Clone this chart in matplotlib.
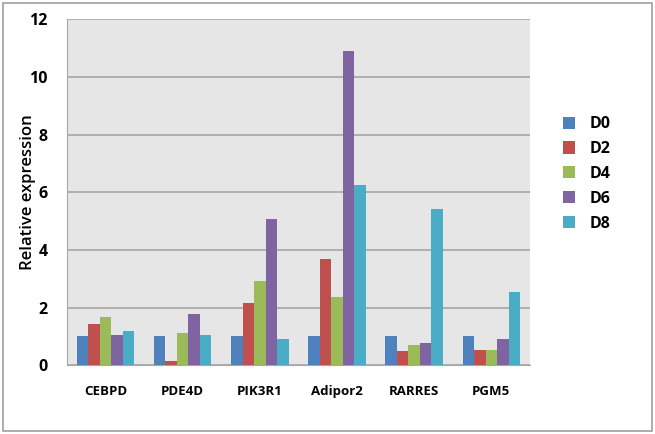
import numpy as np
import matplotlib
matplotlib.use('Agg')
from matplotlib import pyplot as plt
from matplotlib.patches import Rectangle

genes = ['CEBPD', 'PDE4D', 'PIK3R1', 'Adipor2', 'RARRES', 'PGM5']
days = ['D0', 'D2', 'D4', 'D6', 'D8']
d0 = [1.0, 1.0, 1.0, 1.0, 1.0, 1.0]
d2 = [1.42, 0.14, 2.16, 3.70, 0.50, 0.54]
d4 = [1.68, 1.11, 2.93, 2.37, 0.69, 0.52]
d6 = [1.04, 1.79, 5.08, 10.90, 0.78, 0.92]
d8 = [1.20, 1.04, 0.92, 6.25, 5.42, 2.54]
colors = ['#4F81BD', '#C0504D', '#9BBB59', '#8064A2', '#4BACC6']

plt.rcParams['font.family'] = ['Open Sans', 'DejaVu Sans']

fig = plt.figure(figsize=(6.55, 4.34), dpi=100)
ax = fig.add_axes([0.1023, 0.1583, 0.7067, 0.7972])
ax.set_facecolor('#E6E6E6')

x = np.arange(len(genes))
width = 0.149
handles = []
for i, (label, vals) in enumerate(zip(days, [d0, d2, d4, d6, d8])):
    bars = ax.bar(x + (i - 2) * width, vals, width, color=colors[i],
                  label=label, zorder=3)
    handles.append(bars)

ax.set_xlim(-0.5, len(genes) - 0.5)
ax.set_ylim(0, 12)
ax.set_yticks(range(0, 13, 2))
ax.set_xticks(x)
ax.set_xticklabels(genes, fontsize=9.5, fontweight='bold')
ax.tick_params(axis='x', length=0, pad=14)
ax.tick_params(axis='y', length=0, pad=14, labelsize=11.5)
for lab in ax.get_yticklabels():
    lab.set_fontweight('bold')
ax.grid(axis='y', color='#A6A6A6', linewidth=1.2, zorder=0)

for side in ['top', 'right']:
    ax.spines[side].set_visible(False)
ax.spines['left'].set_color('#A6A6A6')
ax.spines['bottom'].set_color('#A6A6A6')

ax.set_ylabel('Relative expression', fontsize=12, fontweight='semibold')
ax.yaxis.set_label_coords(-0.068, 0.5)

fig.legend(handles=handles, labels=days, loc='upper left',
           bbox_to_anchor=(0.837, 0.765), frameon=False,
           handlelength=0.8, handleheight=0.8, handletextpad=0.9,
           labelspacing=0.55, prop={'size': 11.5, 'weight': 'bold'})

fig.patches.append(Rectangle((0.004, 0.006), 0.991, 0.987,
                             transform=fig.transFigure, fill=False,
                             edgecolor='#A0A0A0', linewidth=1.2))

fig.savefig('out.png', dpi=100)
